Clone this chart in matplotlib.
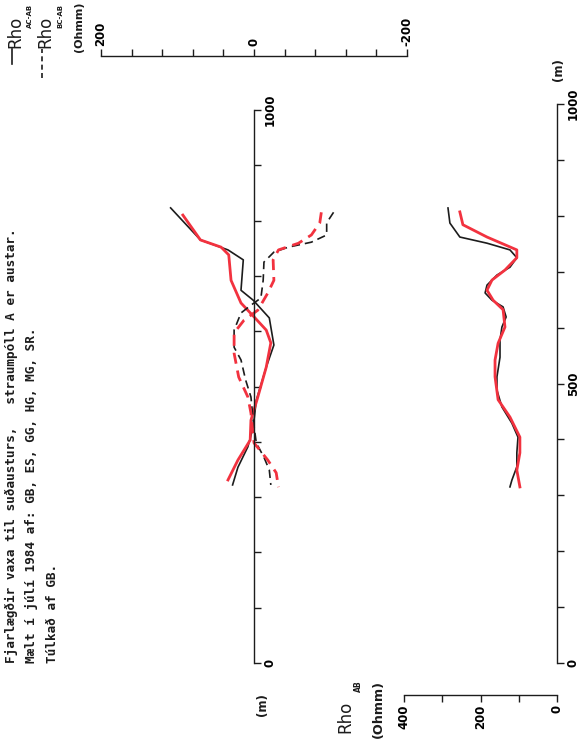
import matplotlib
matplotlib.use("Agg")
import matplotlib.pyplot as plt
from matplotlib.lines import Line2D

W, H = 583, 742

# upper panel: Rho AC-AB (solid) and Rho BC-AB (dashed), black and red runs
up_black_ac_dist = [823, 765, 747, 729, 674, 656, 624, 575, 535, 475, 427, 391, 354, 322]
up_black_ac_rho = [109, 70, 34, 14, 17, 1, -20, -26, -16, -3, 1, 8, 21, 28]
up_red_ac_dist = [810, 765, 752, 738, 692, 651, 626, 602, 579, 535, 481, 439, 403, 367, 331]
up_red_ac_rho = [93, 70, 43, 33, 30, 17, 0, -16, -22, -16, -5, 4, 5, 21, 34]
up_black_bc_dist = [815, 796, 774, 761, 752, 743, 725, 692, 660, 647, 633, 602, 571, 548,
                    512, 481, 439, 398, 372, 349, 322]
up_black_bc_rho = [-104, -95, -95, -75, -45, -26, -13, -12, -9, 4, 17, 26, 26, 17,
                   11, 4, 1, -3, -13, -20, -22]
up_red_bc_dist = [815, 796, 774, 759, 747, 729, 692, 669, 638, 620, 597, 560, 517, 481,
                  452, 398, 367, 344, 318]
up_red_bc_rho = [-88, -86, -75, -58, -32, -25, -26, -18, -5, 13, 26, 26, 20, 8,
                 4, 0, -18, -29, -32]

# lower panel: Rho AB
low_black_dist = [814, 787, 762, 751, 739, 725, 708, 694, 676, 662, 649, 637, 619, 601,
                  578, 547, 512, 488, 458, 429, 404, 376, 351, 327, 315]
low_black_rho = [285, 280, 254, 183, 123, 105, 123, 157, 183, 188, 170, 141, 133, 144,
                 149, 149, 157, 157, 144, 118, 102, 105, 105, 118, 123]
low_red_dist = [807, 784, 762, 739, 725, 703, 685, 667, 649, 632, 601, 572, 542, 512,
                471, 440, 404, 376, 345, 315]
low_red_rho = [254, 246, 183, 105, 105, 136, 170, 183, 167, 141, 136, 154, 162, 162,
               154, 123, 97, 97, 105, 97]

dist_ticks = list(range(0, 1001, 100))
up_rho_ticks = list(range(-200, 201, 40))
low_rho_ticks = list(range(0, 401, 100))

title_lines = ["Fjarlægðir vaxa til suðausturs,   straumpóll A er austar.",
               "Mælt í júlí 1984 af: GB, ES, GG, HG, MG, SR.",
               "Túlkað af GB."]

RED = "#f2323f"
BLACK = "#1c1c1c"
MONO = "DejaVu Sans Mono"
SANS = "DejaVu Sans"


def fx(x):
    return x / W


def fy(y):
    return 1 - y / H


def pt(px):
    return px * 72 / 100


def style_ticks(ax):
    ax.tick_params(axis="both", direction="out", length=5, width=1.0, color=BLACK,
                   labelsize=8.5, pad=2)
    for lab in ax.get_yticklabels():
        lab.set_rotation(90)
        lab.set_fontweight("bold")
        lab.set_va("center")
    for lab in ax.get_xticklabels():
        lab.set_rotation(90)
        lab.set_fontweight("bold")
        lab.set_ha("center")


fig = plt.figure(figsize=(W / 100, H / 100), dpi=100)

# ---- upper panel ----
ax1 = fig.add_axes([fx(101), fy(663), fx(407) - fx(101), fy(110) - fy(663)])
ax1.patch.set_alpha(0)
ax1.set_xlim(200, -200)
ax1.set_ylim(0, 1000)
ax1.plot(up_black_ac_rho, up_black_ac_dist, color=BLACK, lw=1.2)
ax1.plot(up_red_ac_rho, up_red_ac_dist, color=RED, lw=2.0)
ax1.plot(up_black_bc_rho, up_black_bc_dist, color=BLACK, lw=1.2, dashes=(5, 3))
ax1.plot(up_red_bc_rho, up_red_bc_dist, color=RED, lw=2.0, dashes=(4, 2.5))
ax1.spines["left"].set_visible(False)
ax1.spines["bottom"].set_visible(False)
ax1.spines["right"].set_position(("data", 0))
ax1.spines["top"].set_position(("outward", pt(54)))
for s in ("right", "top"):
    ax1.spines[s].set_linewidth(1.0)
    ax1.spines[s].set_color(BLACK)
ax1.yaxis.tick_right()
ax1.set_yticks(dist_ticks)
ax1.set_yticklabels([str(v) if v in (0, 1000) else "" for v in dist_ticks])
ax1.xaxis.tick_top()
ax1.set_xticks(up_rho_ticks)
ax1.set_xticklabels([str(v) if v in (-200, 0, 200) else "" for v in up_rho_ticks])
style_ticks(ax1)

# ---- lower panel ----
ax2 = fig.add_axes([fx(404), fy(663), fx(557) - fx(404), fy(104) - fy(663)])
ax2.patch.set_alpha(0)
ax2.set_xlim(400, 0)
ax2.set_ylim(0, 1000)
ax2.plot(low_black_rho, low_black_dist, color=BLACK, lw=1.2)
ax2.plot(low_red_rho, low_red_dist, color=RED, lw=2.0)
ax2.spines["left"].set_visible(False)
ax2.spines["top"].set_visible(False)
ax2.spines["bottom"].set_position(("outward", pt(32)))
for s in ("right", "bottom"):
    ax2.spines[s].set_linewidth(1.0)
    ax2.spines[s].set_color(BLACK)
ax2.yaxis.tick_right()
ax2.set_yticks(dist_ticks)
ax2.set_yticklabels([str(v) if v in (0, 500, 1000) else "" for v in dist_ticks])
ax2.set_xticks(low_rho_ticks)
ax2.set_xticklabels([str(v) if v in (0, 200, 400) else "" for v in low_rho_ticks])
style_ticks(ax2)

# ---- texts (the whole sheet is turned 90 degrees) ----
rot = dict(rotation=90, rotation_mode="anchor", ha="left", va="center")
for i, line in enumerate(title_lines):
    fig.text(fx(11 + 21 * i), fy(663), line, family=MONO, fontweight="bold",
             fontsize=9.2, color=BLACK, **rot)

# legend
fig.add_artist(Line2D([fx(12), fx(12)], [fy(64), fy(49)], color=BLACK, lw=1.2))
fig.text(fx(15), fy(48), "Rho", family=SANS, fontsize=12, color=BLACK, **rot)
fig.text(fx(30), fy(28), "AC-AB", family=SANS, fontweight="bold", fontsize=5,
         color=BLACK, **rot)
fig.add_artist(Line2D([fx(42), fx(42)], [fy(78), fy(49)], color=BLACK, lw=1.2,
                      dashes=(3, 2)))
fig.text(fx(45), fy(48), "Rho", family=SANS, fontsize=12, color=BLACK, **rot)
fig.text(fx(60), fy(28), "BC-AB", family=SANS, fontweight="bold", fontsize=5,
         color=BLACK, **rot)
fig.text(fx(79), fy(52), "(Ohmm)", family=SANS, fontweight="bold", fontsize=8,
         color=BLACK, **rot)

# axis names
fig.text(fx(263), fy(705), "(m)", family=SANS, fontweight="bold", fontsize=8.5,
         color=BLACK, rotation=90, ha="center", va="center")
fig.text(fx(558), fy(70), "(m)", family=SANS, fontweight="bold", fontsize=8.5,
         color=BLACK, rotation=90, ha="center", va="center")
fig.text(fx(345), fy(733), "Rho", family=SANS, fontsize=12, color=BLACK, **rot)
fig.text(fx(358), fy(692), "AB", family=SANS, fontweight="bold", fontsize=5.5,
         color=BLACK, **rot)
fig.text(fx(378), fy(738), "(Ohmm)", family=SANS, fontweight="bold", fontsize=9.2,
         color=BLACK, **rot)

fig.savefig("out.png", dpi=100)
